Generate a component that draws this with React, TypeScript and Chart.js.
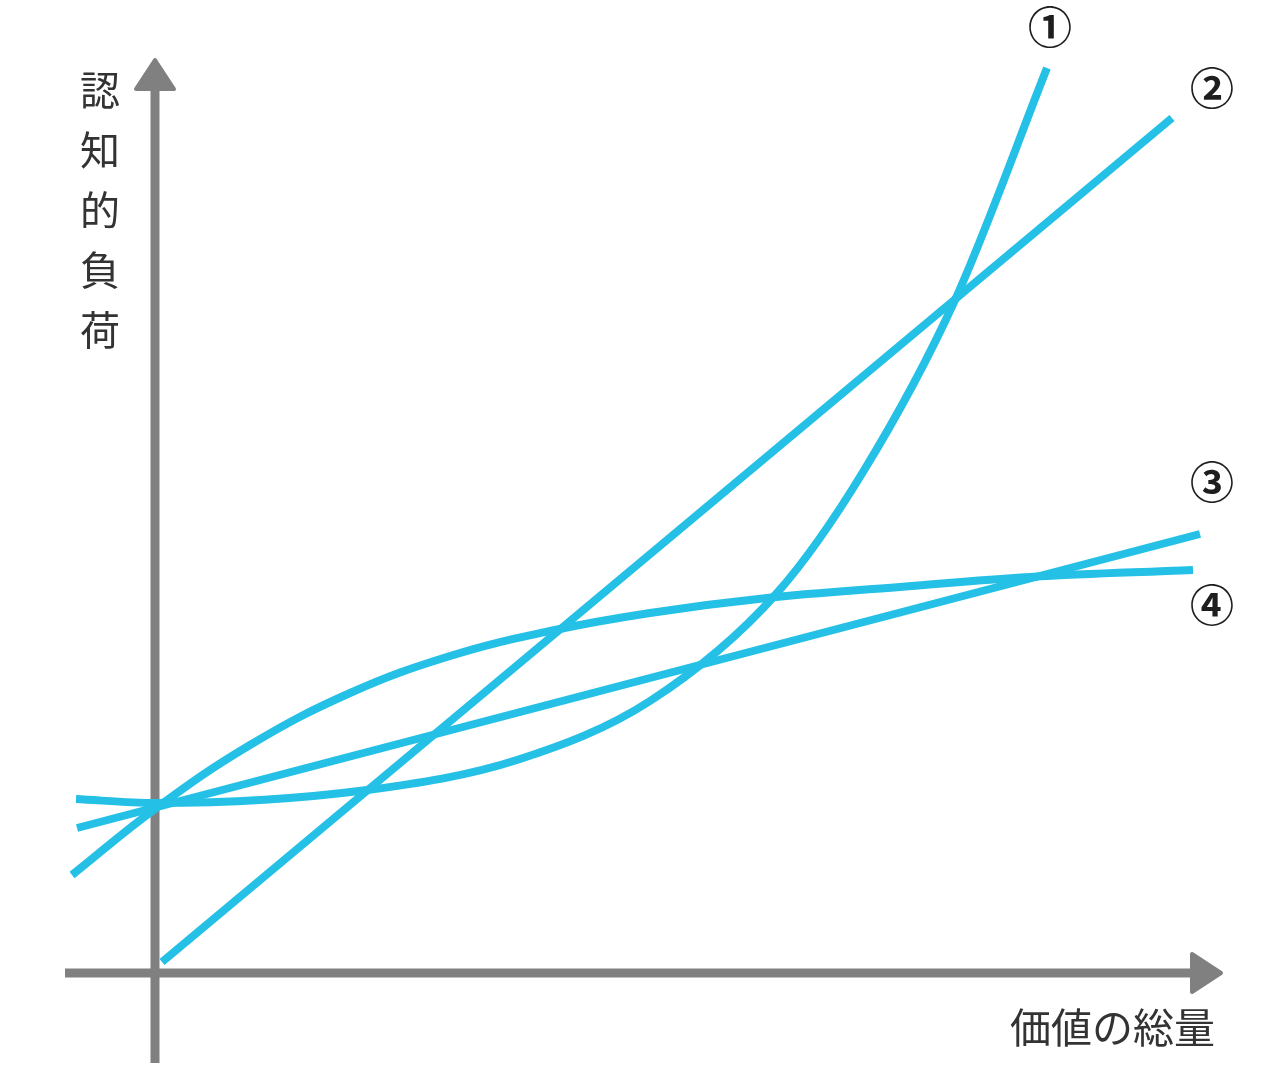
import React, { useEffect, useRef } from "react";
import { Chart, registerables } from "chart.js";

Chart.register(...registerables);

// ---- data (value units: origin at the axes crossing) ----
const curveLabels = ["①", "②", "③", "④"];

const curve1X = [-0.79, 0.0, 2.12, 3.62, 4.95, 6.22, 7.08, 8.0, 8.92];
const curve1Y = [1.74, 1.70, 1.83, 2.13, 2.72, 3.80, 5.01, 6.73, 9.05];

const curve2X = [0.07, 10.17];
const curve2Y = [0.11, 8.55];

const curve3X = [-0.78, 10.45];
const curve3Y = [1.45, 4.39];

const curve4X = [-0.83, 0.0, 0.95, 1.95, 2.95, 3.95, 4.95, 6.12, 7.45, 8.75, 10.38];
const curve4Y = [0.98, 1.64, 2.28, 2.80, 3.17, 3.42, 3.60, 3.75, 3.86, 3.96, 4.03];

const yAxisTitle = "認知的負荷";
const xAxisTitle = "価値の総量";

// axis extents (value units)
const axisStart = -0.9;
const xArrowTip = 10.68;
const yArrowTip = 9.15;

// ---- styles ----
const CYAN = "#24C0E6";
const GRAY = "#808080";
const TEXT = "#333333";
const FONT = '"Noto Sans CJK JP", "Noto Sans CJK SC", sans-serif';

const toPoints = (xs: number[], ys: number[]) => xs.map((x, i) => ({ x, y: ys[i] }));

const labelOffsets = [
  { dx: 3, dy: -41 },
  { dx: 40, dy: -30 },
  { dx: 12, dy: -52 },
  { dx: 19, dy: 35 },
];

const decorPlugin = {
  id: "decor",
  beforeDatasetsDraw(chart: any) {
    const { ctx, scales } = chart;
    const sx = scales.x;
    const sy = scales.y;
    const ox = sx.getPixelForValue(0);
    const oy = sy.getPixelForValue(0);
    const arrowLen = 33;
    const half = 19;
    ctx.save();
    ctx.strokeStyle = GRAY;
    ctx.fillStyle = GRAY;
    ctx.lineWidth = 9;
    ctx.lineCap = "butt";
    const yBottom = sy.getPixelForValue(axisStart);
    const yTip = sy.getPixelForValue(yArrowTip);
    ctx.beginPath();
    ctx.moveTo(ox, yBottom);
    ctx.lineTo(ox, yTip + arrowLen - 2);
    ctx.stroke();
    const xLeft = sx.getPixelForValue(axisStart);
    const xTip = sx.getPixelForValue(xArrowTip);
    ctx.beginPath();
    ctx.moveTo(xLeft, oy);
    ctx.lineTo(xTip - arrowLen + 2, oy);
    ctx.stroke();
    ctx.lineWidth = 4;
    ctx.lineJoin = "round";
    ctx.beginPath();
    ctx.moveTo(ox, yTip + 2);
    ctx.lineTo(ox + half, yTip + arrowLen - 2);
    ctx.lineTo(ox - half, yTip + arrowLen - 2);
    ctx.closePath();
    ctx.fill();
    ctx.stroke();
    ctx.beginPath();
    ctx.moveTo(xTip - 2, oy);
    ctx.lineTo(xTip - arrowLen + 2, oy - half);
    ctx.lineTo(xTip - arrowLen + 2, oy + half);
    ctx.closePath();
    ctx.fill();
    ctx.stroke();
    ctx.restore();
  },
  afterDraw(chart: any) {
    const { ctx, scales } = chart;
    const sx = scales.x;
    const sy = scales.y;
    const ox = sx.getPixelForValue(0);
    const oy = sy.getPixelForValue(0);
    ctx.save();
    ctx.fillStyle = TEXT;
    ctx.textAlign = "center";
    ctx.textBaseline = "middle";
    ctx.font = `40px ${FONT}`;
    const chars = Array.from(yAxisTitle);
    chars.forEach((c, i) => {
      ctx.fillText(c, ox - 55, 90 + i * 60);
    });
    ctx.font = `41px ${FONT}`;
    ctx.textAlign = "right";
    ctx.fillText(xAxisTitle, sx.getPixelForValue(xArrowTip) - 8, oy + 54);
    ctx.fillStyle = "#1e1e1e";
    ctx.textAlign = "center";
    ctx.font = `bold 44px ${FONT}`;
    curveLabels.forEach((lab, i) => {
      const meta = chart.getDatasetMeta(i);
      const last = meta.data[meta.data.length - 1];
      const off = labelOffsets[i];
      ctx.fillText(lab, last.x + off.dx, last.y + off.dy);
    });
    ctx.restore();
  },
};

export default function App() {
  const ref = useRef<HTMLCanvasElement | null>(null);
  useEffect(() => {
    if (!ref.current) return;
    const mk = (label: string, xs: number[], ys: number[], mono = false) => ({
      label,
      data: toPoints(xs, ys),
      borderColor: CYAN,
      borderWidth: 8,
      borderCapStyle: "butt" as const,
      pointRadius: 0,
      fill: false,
      tension: 0.4,
      cubicInterpolationMode: (mono ? "monotone" : "default") as any,
    });
    const chart = new Chart(ref.current, {
      type: "line",
      data: {
        datasets: [
          mk(curveLabels[0], curve1X, curve1Y, true),
          mk(curveLabels[1], curve2X, curve2Y),
          mk(curveLabels[2], curve3X, curve3Y),
          mk(curveLabels[3], curve4X, curve4Y),
        ],
      },
      options: {
        animation: false,
        responsive: false,
        maintainAspectRatio: false,
        layout: { padding: 0 },
        plugins: { legend: { display: false }, tooltip: { enabled: false } },
        events: [],
        scales: {
          x: { type: "linear", min: -1.55, max: 11.11, display: false },
          y: { type: "linear", min: -0.99, max: 9.73, display: false },
        },
      },
      plugins: [decorPlugin],
    });
    return () => chart.destroy();
  }, []);
  return (
    <div style={{ position: "absolute", left: 0, top: 0, width: 1266, height: 1072, background: "#fff" }}>
      <canvas ref={ref} width={1266} height={1072} style={{ display: "block" }} />
    </div>
  );
}
